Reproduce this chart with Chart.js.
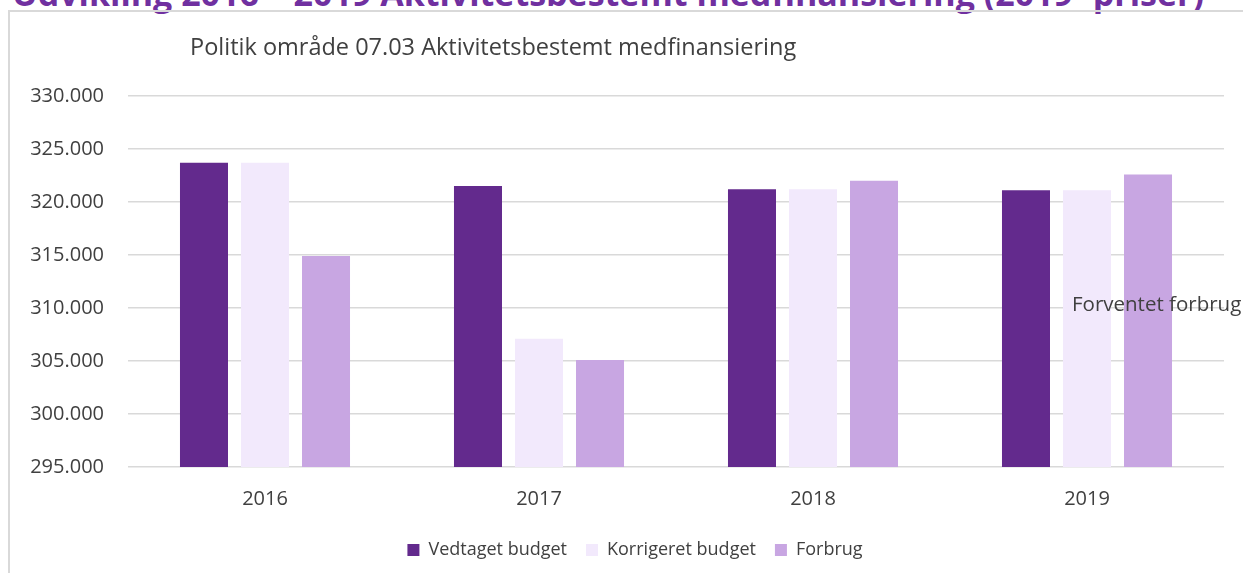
<!DOCTYPE html>
<html>
<head>
<meta charset="utf-8">
<script src="https://cdn.jsdelivr.net/npm/chart.js@4"></script>
<style>
  html, body { margin: 0; padding: 0; background: #fff; overflow: hidden; }
  #wrap { position: relative; width: 1243px; height: 573px; overflow: hidden; }
  #frame { position: absolute; left: 8px; top: 10px; width: 1300px; height: 700px; border: 2px solid #d9d9d9; }
  #heading { position: absolute; left: 12px; top: -24px; white-space: nowrap; font: bold 34px "Open Sans", sans-serif; line-height: 34px; color: #7030a0; }
  #chart { position: absolute; left: 0; top: 0; }
</style>
</head>
<body>
<div id="wrap">
  <div id="heading">Udvikling 2016 – 2019 Aktivitetsbestemt medfinansiering (2019 -priser)</div>
  <div id="frame"></div>
  <canvas id="chart" width="1243" height="573"></canvas>
</div>
<script>
// Data
const years = ['2016', '2017', '2018', '2019'];
const vedtaget = [323700, 321500, 321200, 321100];
const korrigeret = [323700, 307100, 321200, 321100];
const forbrug = [314900, 305100, 322000, 322600];

const seriesNames = ['Vedtaget budget', 'Korrigeret budget', 'Forbrug'];
const chartTitle = 'Politik område 07.03 Aktivitetsbestemt medfinansiering';
const noteText = 'Forventet forbrug';

const textColor = '#404040';
const fontFamily = '"Open Sans", sans-serif';

// format 330000 -> "330.000"
function formatThousands(v) {
    return String(Math.round(v)).replace(/\B(?=(\d{3})+(?!\d))/g, '.');
}

// Draw the chart title and the note text
const textPlugin = {
    id: 'extraText',
    afterLayout(chart) {
        // legend sits a bit right of the canvas centre in the original
        if (chart.legend) {
            chart.legend.left += 23;
            chart.legend.right += 23;
        }
    },
    afterDraw(chart) {
        const ctx = chart.ctx;
        ctx.save();
        ctx.fillStyle = textColor;
        ctx.textBaseline = 'middle';
        ctx.textAlign = 'left';
        ctx.font = '23.5px ' + fontFamily;
        ctx.fillText(chartTitle, 190, 48);
        ctx.font = '20.5px ' + fontFamily;
        ctx.fillText(noteText, 1072, 305);
        ctx.restore();
    }
};

const ctx = document.getElementById('chart').getContext('2d');
const chart = new Chart(ctx, {
    type: 'bar',
    data: {
        labels: years,
        datasets: [
            { label: seriesNames[0], data: vedtaget, backgroundColor: '#632a8d' },
            { label: seriesNames[1], data: korrigeret, backgroundColor: '#f2e9fc' },
            { label: seriesNames[2], data: forbrug, backgroundColor: '#c8a6e2' }
        ]
    },
    options: {
        responsive: false,
        animation: false,
        layout: {
            padding: { top: 96, left: 0, right: 19, bottom: 4 }
        },
        datasets: {
            bar: {
                categoryPercentage: 0.668,
                barPercentage: 0.787,
                borderWidth: 0
            }
        },
        scales: {
            x: {
                grid: { display: false },
                border: { display: false },
                ticks: {
                    color: textColor,
                    font: { family: fontFamily, size: 20 },
                    padding: 12
                },
                afterFit(scale) { scale.height = 55; }
            },
            y: {
                min: 295000,
                max: 330000,
                grid: { color: '#d9d9d9', lineWidth: 1.4, drawTicks: false },
                border: { display: false },
                ticks: {
                    stepSize: 5000,
                    color: textColor,
                    font: { family: fontFamily, size: 20 },
                    padding: 24,
                    callback: (v) => formatThousands(v)
                },
                afterFit(scale) { scale.width = 128; }
            }
        },
        plugins: {
            legend: {
                position: 'bottom',
                labels: {
                    color: textColor,
                    font: { family: fontFamily, size: 18 },
                    boxWidth: 12,
                    boxHeight: 12,
                    padding: 19
                }
            },
            tooltip: { enabled: false }
        }
    },
    plugins: [textPlugin]
});
</script>
</body>
</html>
